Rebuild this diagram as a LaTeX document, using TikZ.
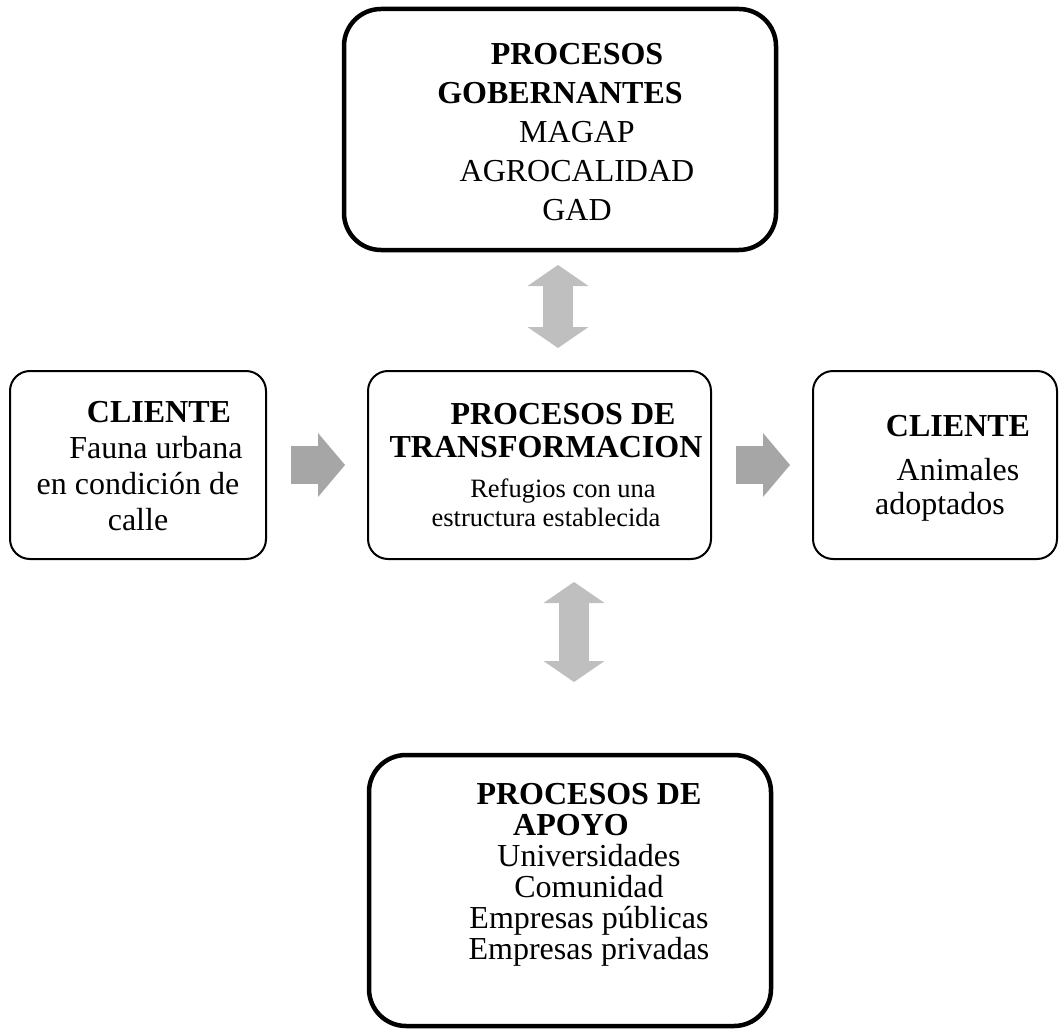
\documentclass[tikz,border=0pt]{standalone}
\usepackage{fontspec}
\setmainfont{Liberation Serif}
\usepackage{tikz}
\usetikzlibrary{arrows.meta}
\definecolor{flowgray}{HTML}{A6A6A6}
\definecolor{linkgray}{HTML}{BFBFBF}
\tikzstyle{blockarrow} = [flowgray, line width=19pt, -{Triangle[length=13.5pt,width=32pt,line width=0pt]}]
\tikzstyle{twoway} = [linkgray, line width=15pt, {Triangle[length=10.5pt,width=30.5pt,line width=0pt]}-{Triangle[length=10.5pt,width=30.5pt,line width=0pt]}]

\begin{document}
\begin{tikzpicture}[x=0.5pt, y=-0.5pt,
    box/.style={draw, fill=white, line width=1pt, rounded corners=10pt, inner sep=0pt, outer sep=0pt},
    bigbox/.style={box, line width=2.25pt, rounded corners=18.5pt},
    txt/.style={anchor=north, inner sep=0pt, align=center, font=\fontsize{16}{18}\selectfont}]
        \useasboundingbox (0,0) rectangle (1059,1032);

        % Node positions
        \node[bigbox, minimum width=216pt, minimum height=120.5pt] (gob) at (560,129.5) {};
        \node[box, minimum width=128pt, minimum height=94pt] (cli1) at (138,465) {};
        \node[box, minimum width=171.5pt, minimum height=94pt] (transf) at (539.5,465) {};
        \node[box, minimum width=122pt, minimum height=94pt] (cli2) at (935,465) {};
        \node[bigbox, minimum width=201pt, minimum height=135.5pt] (apoyo) at (570,890.5) {};

        % Texts
        \node[txt, font=\fontsize{16}{19.5}\selectfont] (gobtxt) at (577,43)
            {\textbf{PROCESOS}\\\textbf{GOBERNANTES}\hspace*{17pt}\mbox{}\\MAGAP\\AGROCALIDAD\\GAD};
        \node[txt] (cli1txt) at (138,401)
            {\hspace*{21pt}\textbf{CLIENTE}\\\hspace*{18pt}Fauna urbana\\en condición de\\calle};
        \node[txt, font=\fontsize{16}{16.5}\selectfont] (transftxt) at (546,403)
            {\hspace*{17pt}\textbf{PROCESOS DE}\\\textbf{TRANSFORMACION}\\[3.5pt]
             {\fontsize{13.25}{14.5}\selectfont\hspace*{17pt}Refugios con una}\\[-2pt]
             {\fontsize{13.25}{14.5}\selectfont estructura establecida}};
        \node[txt, font=\fontsize{16}{17}\selectfont] (cli2txt) at (958,415)
            {\textbf{CLIENTE}\\[5pt]Animales\\adoptados\hspace*{18pt}\mbox{}};
        \node[txt, font=\fontsize{16}{15.5}\selectfont] (apoyotxt) at (589,783)
            {\textbf{PROCESOS DE}\\\textbf{APOYO}\hspace*{18pt}\mbox{}\\Universidades\\Comunidad\\Empresas públicas\\Empresas privadas};

        \draw[blockarrow, shorten <=12.5pt, shorten >=11.5pt] (cli1) -- (transf);
        \draw[blockarrow, shorten <=12.5pt, shorten >=11.5pt] (transf) -- (cli2);
        \draw[twoway, shorten <=7.5pt, shorten >=11.5pt] ([xshift=-1pt]gob.south) -- ([xshift=-1pt]gob.south |- transf.north);
        \draw[twoway, shorten <=11.5pt, shorten >=36.5pt] ([xshift=2pt]apoyo.north |- transf.south) -- ([xshift=2pt]apoyo.north);
      \end{tikzpicture}
\end{document}
